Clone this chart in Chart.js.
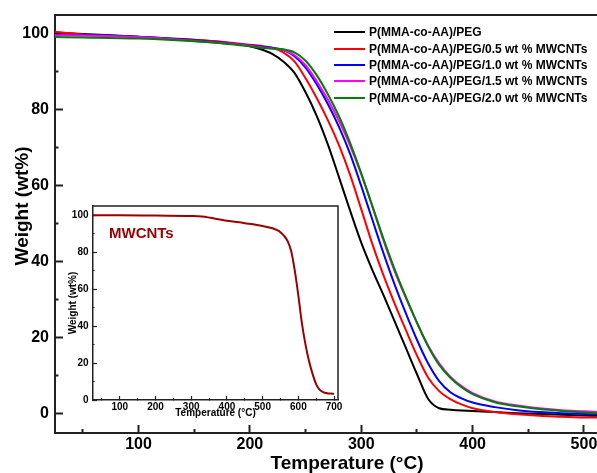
<!DOCTYPE html>
<html>
<head>
<meta charset="utf-8">
<script src="https://cdn.jsdelivr.net/npm/chart.js@4.4.0/dist/chart.umd.min.js"></script>
<style>
  body { margin: 0; background: #fff; overflow: hidden; }
  #wrap { position: relative; width: 597px; height: 473px; }
  #main { position: absolute; left: 0; top: 0; }
  #inset { position: absolute; left: 60px; top: 196px; }
  #legend { position: absolute; left: 334px; top: 24px; font: bold 12px "Liberation Sans", Arial, sans-serif; color: #000; }
  .row { height: 16.4px; display: flex; align-items: center; white-space: nowrap; }
  .swatch { width: 31px; height: 2px; margin-right: 4px; }
  #tag { position: absolute; left: 109px; top: 224px; line-height: 17px; font: bold 15px "Liberation Sans", Arial, sans-serif; color: #990000; }
</style>
</head>
<body>
<div id="wrap">
  <canvas id="main" width="597" height="473"></canvas>
  <canvas id="inset" width="290" height="226"></canvas>
  <div id="legend"></div>
  <div id="tag">MWCNTs</div>
</div>
<script>
// main TGA curves (°C -> wt%)
const temps   = [25, 50, 100, 150, 180, 200, 210, 220, 230, 240, 250, 260, 270, 280, 290, 300, 310, 320, 330, 340, 350, 360, 370, 380, 390, 400, 420, 440, 460, 480, 500, 512];
const peg     = [100.2, 99.8, 99.1, 98.3, 97.5, 96.6, 95.8, 94.6, 92.6, 89.6, 84.5, 78.3, 70.8, 62.2, 53.4, 45.0, 37.8, 31.2, 24.3, 17.4, 10.5, 4.0, 1.5, 1.1, 0.9, 0.8, 0.5, 0.2, 0.0, -0.2, -0.4, -0.5];
const cnt05   = [100.4, 99.7, 99.0, 98.2, 97.6, 97.0, 96.7, 96.2, 95.0, 92.6, 88.2, 83.0, 77.2, 70.6, 62.8, 53.8, 44.6, 36.4, 29.0, 22.1, 15.4, 9.6, 6.0, 3.9, 2.5, 1.5, 0.5, -0.1, -0.5, -0.7, -0.9, -0.9];
const cnt10   = [99.6, 99.5, 99.1, 98.1, 97.4, 96.8, 96.5, 96.2, 95.6, 94.0, 91.0, 86.6, 81.4, 75.4, 68.3, 59.9, 51.0, 42.2, 34.0, 26.5, 19.5, 13.3, 8.6, 5.7, 4.1, 3.0, 1.8, 1.0, 0.5, 0.2, 0.0, -0.1];
const cnt15   = [99.5, 99.4, 99.0, 98.0, 97.3, 96.7, 96.3, 96.0, 95.6, 94.3, 91.6, 87.4, 82.6, 77.0, 70.5, 63.0, 54.5, 45.6, 37.5, 30.5, 24.0, 18.0, 13.3, 9.8, 7.3, 5.5, 3.3, 2.2, 1.5, 1.0, 0.7, 0.5];
const cnt20   = [99.0, 98.9, 98.6, 97.9, 97.2, 96.6, 96.2, 96.0, 95.8, 95.0, 92.8, 89.0, 84.0, 78.2, 71.2, 63.2, 54.6, 46.0, 38.0, 30.8, 24.0, 17.8, 12.9, 9.5, 7.0, 5.2, 3.1, 2.0, 1.3, 0.8, 0.4, 0.2];

const seriesNames  = ['P(MMA-co-AA)/PEG', 'P(MMA-co-AA)/PEG/0.5 wt % MWCNTs', 'P(MMA-co-AA)/PEG/1.0 wt % MWCNTs', 'P(MMA-co-AA)/PEG/1.5 wt % MWCNTs', 'P(MMA-co-AA)/PEG/2.0 wt % MWCNTs'];
const seriesValues = [peg, cnt05, cnt10, cnt15, cnt20];
const seriesColors = ['#000000', '#ff0000', '#0000ff', '#ff00ff', '#008000'];

// inset: MWCNTs alone
const insetTemps   = [25, 100, 200, 300, 330, 400, 450, 500, 530, 545, 560, 570, 580, 590, 600, 610, 620, 630, 640, 650, 660, 670, 680, 690, 700];
const insetWeights = [100.0, 100.0, 99.8, 99.6, 99.3, 97.0, 95.7, 94.2, 92.8, 91.5, 88.8, 86.0, 80.5, 70.0, 56.5, 41.5, 30.0, 21.0, 14.0, 8.5, 5.5, 4.2, 3.7, 3.5, 3.4];

const FONT = '"Liberation Sans", Arial, sans-serif';
const AXIS = '#222';

function toPoints(xs, ys){
    return xs.map((x, i) => ({x: x, y: ys[i]}));
}

// html legend
const legend = document.getElementById('legend');
seriesNames.forEach((name, i) => {
    const row = document.createElement('div');
    row.className = 'row';
    row.innerHTML = '<span class="swatch" style="background:' + seriesColors[i] + '"></span><span>' + name + '</span>';
    legend.appendChild(row);
});

const mainDecor = {
    id: 'mainDecor',
    afterDraw(chart){
        const ctx = chart.ctx;
        const a = chart.chartArea;
        ctx.save();
        ctx.strokeStyle = AXIS;
        ctx.lineWidth = 2;
        ctx.beginPath();
        ctx.moveTo(a.left, a.top);
        ctx.lineTo(a.right, a.top);
        ctx.stroke();
        ctx.fillStyle = '#000';
        ctx.font = 'bold 19px ' + FONT;
        ctx.textAlign = 'center';
        ctx.textBaseline = 'middle';
        ctx.fillText('Temperature (°C)', 347, 464);
        ctx.translate(23, 206);
        ctx.rotate(-Math.PI / 2);
        ctx.fillText('Weight (wt%)', 0, 0);
        ctx.restore();
    }
};

const insetFrame = {
    id: 'insetFrame',
    afterDraw(chart){
        const ctx = chart.ctx;
        const a = chart.chartArea;
        ctx.save();
        ctx.strokeStyle = AXIS;
        ctx.lineWidth = 1.5;
        ctx.beginPath();
        ctx.moveTo(a.left, a.top);
        ctx.lineTo(a.right, a.top);
        ctx.lineTo(a.right, a.bottom);
        ctx.stroke();
        ctx.restore();
    }
};

new Chart(document.getElementById('main'), {
    type: 'line',
    data: {
        datasets: seriesValues.map((vals, i) => ({
            label: seriesNames[i],
            data: toPoints(temps, vals),
            borderColor: seriesColors[i],
            borderWidth: 2,
            pointRadius: 0,
            cubicInterpolationMode: 'monotone',
            order: seriesValues.length - i
        }))
    },
    options: {
        responsive: false,
        animation: false,
        events: [],
        layout: { padding: { top: 15, left: 0, right: 0, bottom: 0 } },
        plugins: { legend: { display: false }, tooltip: { enabled: false } },
        scales: {
            x: {
                type: 'linear', min: 25, max: 511.7,
                ticks: {
                    stepSize: 50, includeBounds: false, autoSkip: false, maxRotation: 0,
                    padding: 10, color: '#000', font: { family: FONT, size: 16, weight: 'bold' },
                    callback: v => v % 100 === 0 ? v : ''
                },
                grid: {
                    drawOnChartArea: false, tickLength: -8, tickWidth: 2, tickColor: AXIS,
                    tickBorderDash: c => (c.tick && c.tick.value % 100 !== 0) ? [5, 100] : []
                },
                border: { color: AXIS, width: 2 },
                afterFit: s => { s.height = 40; s.paddingLeft = 0; s.paddingRight = 0; }
            },
            y: {
                type: 'linear', min: -5, max: 104.8,
                ticks: {
                    stepSize: 10, includeBounds: false, autoSkip: false,
                    padding: 14, color: '#000', font: { family: FONT, size: 16, weight: 'bold' },
                    callback: v => v % 20 === 0 ? v : ''
                },
                grid: {
                    drawOnChartArea: false, tickLength: -8, tickWidth: 2, tickColor: AXIS,
                    tickBorderDash: c => (c.tick && c.tick.value % 20 !== 0) ? [0, 4.5, 5, 100] : []
                },
                border: { color: AXIS, width: 2 },
                afterFit: s => { s.width = 55; s.paddingTop = 0; s.paddingBottom = 0; }
            }
        }
    },
    plugins: [mainDecor]
});

new Chart(document.getElementById('inset'), {
    type: 'line',
    data: {
        datasets: [{
            label: 'MWCNTs',
            data: toPoints(insetTemps, insetWeights),
            borderColor: '#990000',
            borderWidth: 2,
            pointRadius: 0,
            cubicInterpolationMode: 'monotone'
        }]
    },
    options: {
        responsive: false,
        animation: false,
        events: [],
        layout: { padding: { top: 10, right: 12, left: 0, bottom: 0 } },
        plugins: { legend: { display: false }, tooltip: { enabled: false } },
        scales: {
            x: {
                type: 'linear', min: 25, max: 711,
                ticks: {
                    stepSize: 50, includeBounds: false, autoSkip: false, maxRotation: 0,
                    padding: 5, color: '#000', font: { family: FONT, size: 10, weight: 'bold' },
                    callback: v => v % 100 === 0 ? v : ''
                },
                grid: {
                    drawOnChartArea: false, tickLength: -4, tickWidth: 1.2, tickColor: AXIS,
                    tickBorderDash: c => (c.tick && c.tick.value % 100 !== 0) ? [2.5, 100] : []
                },
                border: { color: AXIS, width: 1.5 },
                title: {
                    display: true, text: 'Temperature (°C)', color: '#000',
                    font: { family: FONT, size: 10, weight: 'bold' },
                    padding: { top: 0, bottom: 3 }
                },
                afterFit: s => { s.height = 22; s.paddingLeft = 0; s.paddingRight = 0; }
            },
            y: {
                type: 'linear', min: 0, max: 105,
                ticks: {
                    stepSize: 10, includeBounds: false, autoSkip: false,
                    padding: 8.5, color: '#000', font: { family: FONT, size: 10, weight: 'bold' },
                    callback: v => v % 20 === 0 ? v : ''
                },
                grid: {
                    drawOnChartArea: false, tickLength: -4, tickWidth: 1.2, tickColor: AXIS,
                    tickBorderDash: c => (c.tick && c.tick.value % 20 !== 0) ? [0, 2.5, 3, 100] : []
                },
                border: { color: AXIS, width: 1.5 },
                title: {
                    display: true, text: 'Weight (wt%)', color: '#000',
                    font: { family: FONT, size: 10, weight: 'bold' },
                    padding: { top: 7, bottom: 0 }
                },
                afterFit: s => { s.width = 33; s.paddingTop = 0; s.paddingBottom = 0; }
            }
        }
    },
    plugins: [insetFrame]
});
</script>
</body>
</html>
